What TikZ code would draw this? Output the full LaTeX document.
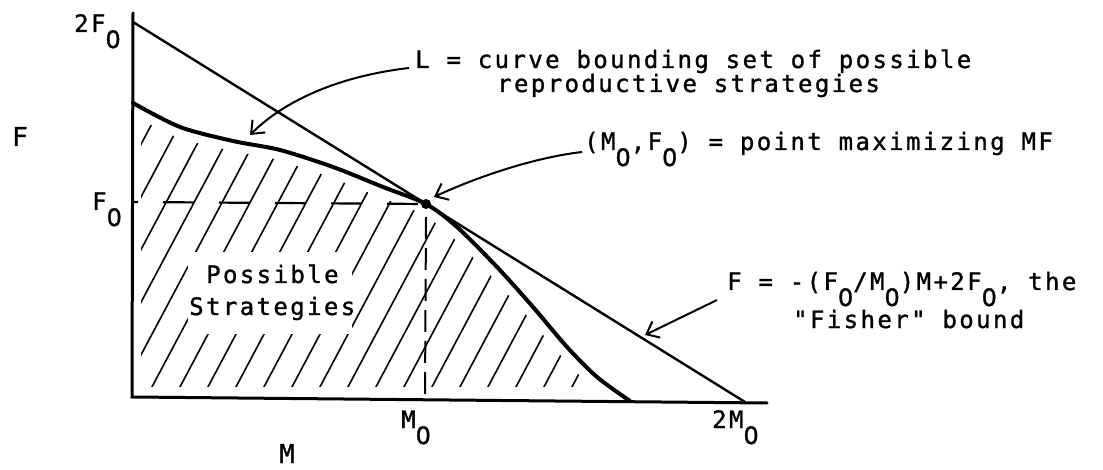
\documentclass[tikz,border=0pt]{standalone}
\usepackage{fontspec}
\newfontfamily\tw{DejaVu Sans Mono}[LetterSpace=10,FakeBold=1.2]
\newfontfamily\twzero{DejaVu Sans}[FakeBold=1.2]
\usetikzlibrary{arrows.meta}
\newcommand{\subz}{\raisebox{-16pt}{\twzero 0}}
\tikzset{
  lbl/.style={font=\tw\fontsize{24}{28}\selectfont, inner sep=0pt, anchor=base west},
  biglbl/.style={lbl, font=\tw\fontsize{26}{30}\selectfont},
  axisline/.style={line width=3pt, line cap=round},
  fisherline/.style={line width=2.4pt},
  curveL/.style={line width=4pt, line cap=round},
  hatchline/.style={line width=1.6pt},
  arr/.style={line width=2pt, -{Straight Barb[length=11pt,width=18pt,line width=2pt]}},
  dashh/.style={line width=2.2pt, dash pattern=on 31pt off 25pt, dash phase=26pt},
  dashv/.style={line width=2pt, dash pattern=on 22pt off 9pt},
}
\begin{document}
\begin{tikzpicture}[x=1pt,y=-1pt]
\fill[white] (0,0) rectangle (1103,470);
\useasboundingbox (0,0) rectangle (1103,470);

% hatching of the possible-strategies region
\begin{scope}
  \clip (141,0) rectangle (800,386);
  \clip[xshift=-6pt,yshift=-9pt] plot[smooth] coordinates {(133,103) (180,127) (233,141) (280,150) (333,167) (383,187) (426,204) (457,227) (497,267) (533,307) (567,347) (597,377) (630,401)} -- (640,378) -- (148,378) -- cycle;
  \foreach \i in {-12,...,22} \draw[hatchline] (145+28*\i,400) -- ++(200,-376);
  \fill[white] (188,252) rectangle (352,334);
\end{scope}

% named points
\coordinate (O) at (132,397);
\coordinate (Ytop) at (133,13);
\coordinate (Xend) at (767,403);
\coordinate (F2) at (133,22);
\coordinate (M2) at (745,402);
\coordinate (pt) at (426,204);
\coordinate (F0l) at (133,202);
\coordinate (M0b) at (425,397);
\coordinate (tipL) at (250,135);
\coordinate (tipMF) at (434,197);
\coordinate (tipF) at (645,335);

% dashed guide lines
\draw[dashh] (F0l) -- (pt);
\draw[dashv] (pt) ++(0,13) -- (M0b);

% axes
\draw[axisline] (Ytop) -- (O) -- (Xend);

% Fisher bound
\draw[fisherline] (F2) -- (M2);

% curve L
\draw[curveL] plot[smooth] coordinates {(133,103) (180,127) (233,141) (280,150) (333,167) (383,187) (426,204) (457,227) (497,267) (533,307) (567,347) (597,377) (630,401)};
\fill (pt) circle (5);

% labels
\node[lbl] (l2F) at (74,32) {2F\subz};
\node[biglbl] (lF) at (12,146) {F};
\node[lbl] (lF0) at (92,210) {F\subz};
\node[lbl] (lM0) at (401,428) {M\subz};
\node[lbl] (l2M) at (712,428) {2M\subz};
\node[biglbl] (lM) at (279,463) {M};
\node[lbl] (ps1) at (206,283) {Possible};
\node[lbl] (ps2) at (189,315) {Strategies};

\node[lbl] (lab1) at (415,68) {L = curve bounding set of possible};
\node[lbl] (lab2) at (497,92) {reproductive strategies};
\node[lbl] (labMF) at (584,150) {(M\subz,F\subz) = point maximizing MF};
\node[lbl] (labF) at (727,290) {F = -(F\subz/M\subz)M+2F\subz, the};
\node[lbl] (labF2) at (793,328) {"Fisher" bound};

% arrows
\draw[arr] ([xshift=-6pt]lab1.base west) .. controls (340,76) and (285,100) .. (tipL);
\draw[arr] ([xshift=-2pt,yshift=-2pt]labMF.base west) .. controls (530,158) and (470,180) .. (tipMF);
\draw[arr] ([xshift=-10pt,yshift=-10pt]labF.base west) -- (tipF);
\end{tikzpicture}
\end{document}
